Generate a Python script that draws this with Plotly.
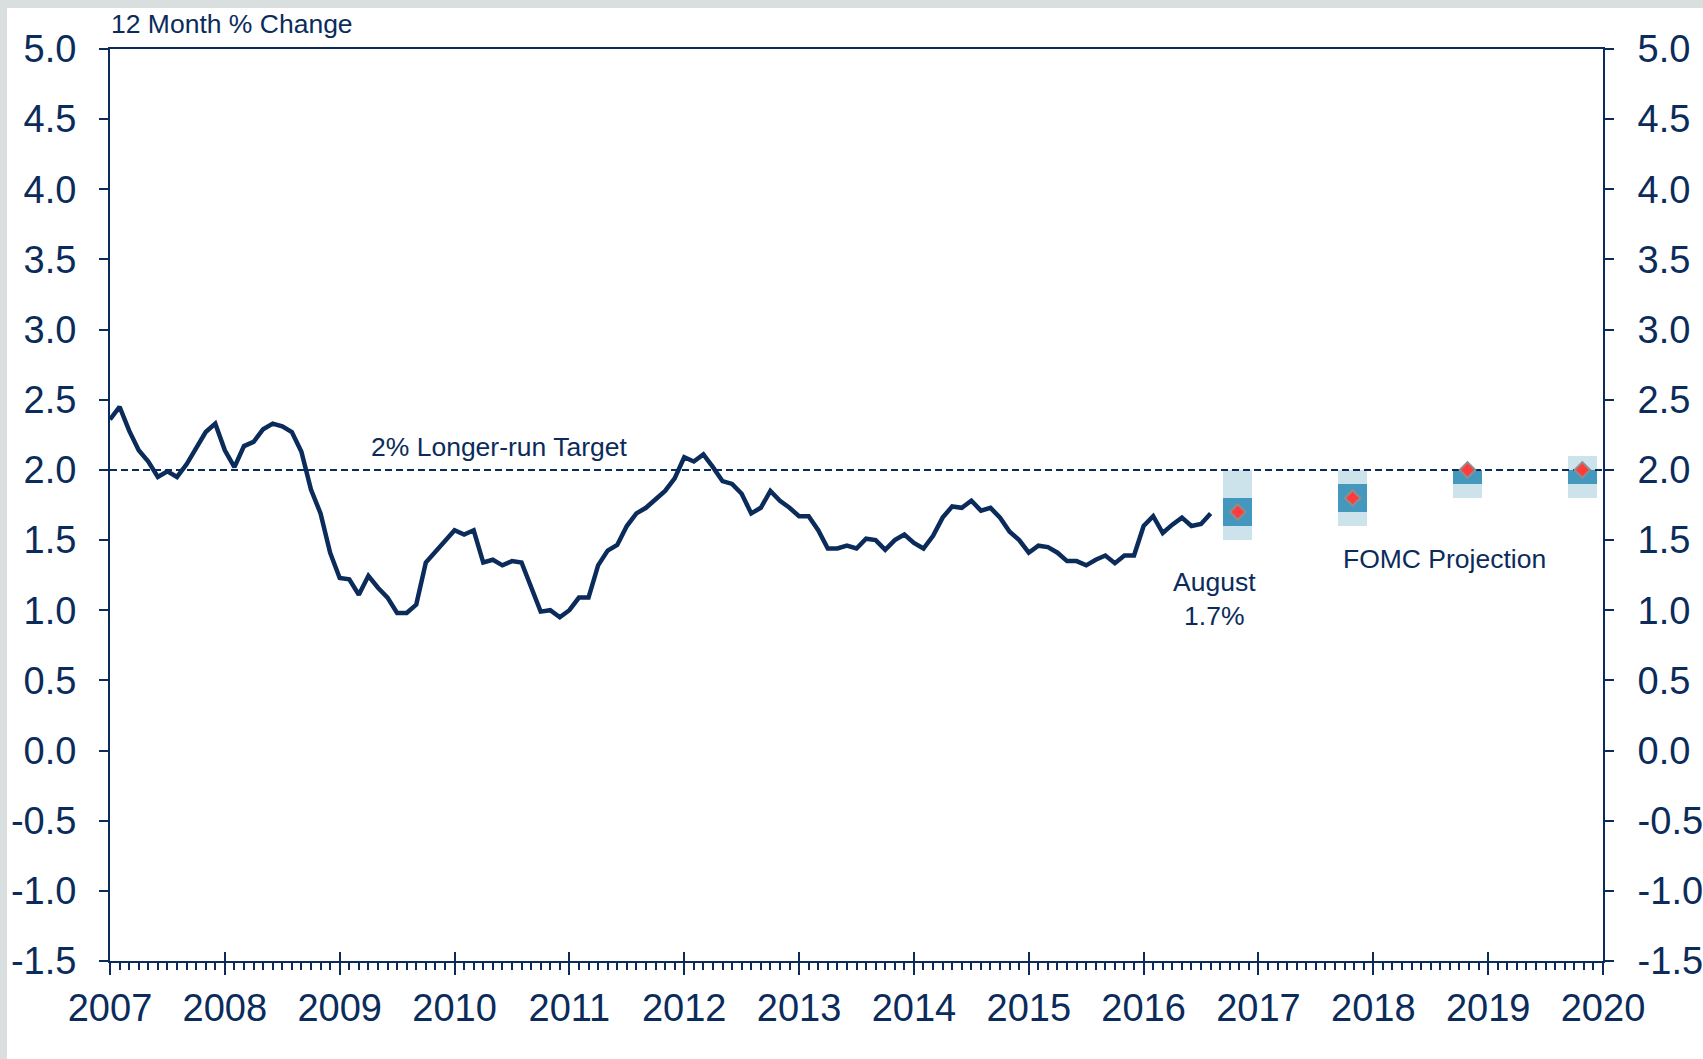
import plotly.graph_objects as go
import pandas as pd

# ---- data ----
start_month = "2007-01"
core_pce = [
    2.36, 2.45, 2.28, 2.14, 2.06, 1.95, 1.99, 1.95, 2.04, 2.15, 2.27, 2.33,   # 2007
    2.14, 2.02, 2.17, 2.20, 2.29, 2.33, 2.31, 2.27, 2.13, 1.86, 1.69, 1.41,   # 2008
    1.23, 1.22, 1.11, 1.245, 1.16, 1.09, 0.98, 0.98, 1.04, 1.34, 1.42, 1.49,  # 2009
    1.57, 1.54, 1.57, 1.34, 1.36, 1.32, 1.35, 1.34, 1.17, 0.99, 1.00, 0.95,   # 2010
    1.00, 1.09, 1.09, 1.32, 1.425, 1.465, 1.60, 1.69, 1.73, 1.79, 1.85, 1.94, # 2011
    2.09, 2.06, 2.11, 2.02, 1.92, 1.90, 1.83, 1.69, 1.73, 1.85, 1.78, 1.73,   # 2012
    1.67, 1.67, 1.57, 1.44, 1.44, 1.46, 1.44, 1.51, 1.50, 1.43, 1.50, 1.54,   # 2013
    1.48, 1.44, 1.53, 1.66, 1.74, 1.73, 1.78, 1.71, 1.73, 1.66, 1.56, 1.50,   # 2014
    1.41, 1.46, 1.45, 1.41, 1.35, 1.35, 1.32, 1.36, 1.39, 1.335, 1.39, 1.39,  # 2015
    1.60, 1.67, 1.55, 1.61, 1.66, 1.60, 1.615, 1.69,                          # 2016
]
proj_years = [2016, 2017, 2018, 2019]
range_low = [1.5, 1.6, 1.8, 1.8]
range_high = [2.0, 2.0, 2.0, 2.1]
ct_low = [1.6, 1.7, 1.9, 1.9]
ct_high = [1.8, 1.9, 2.0, 2.0]
median = [1.7, 1.8, 2.0, 2.0]
target = 2.0
y_ticks = [-1.5, -1.0, -0.5, 0.0, 0.5, 1.0, 1.5, 2.0, 2.5, 3.0, 3.5, 4.0, 4.5, 5.0]
x_ticks = list(range(2007, 2021))

# ---- style ----
NAVY = "#0B2C5B"
LIGHT = "#CCE3EC"
DARK = "#4497BD"
RED = "#FF3B3B"
FONT = "Liberation Sans, Arial, sans-serif"
W, H = 1703, 1059
L, R, T, B = 110, 100, 49, 98
BOX_OFFSET = 0.82
BOX_W = 0.25

dates = pd.date_range(start_month, periods=len(core_pce), freq="MS")
xs = [d.year + (d.month - 1) / 12 for d in dates]
px = [y + BOX_OFFSET for y in proj_years]

fig = go.Figure()
fig.add_trace(go.Bar(x=px, y=[h - l for h, l in zip(range_high, range_low)], base=range_low,
                     width=BOX_W, marker=dict(color=LIGHT, line=dict(width=0)),
                     showlegend=False, hoverinfo="skip"))
fig.add_trace(go.Bar(x=px, y=[h - l for h, l in zip(ct_high, ct_low)], base=ct_low,
                     width=BOX_W, marker=dict(color=DARK, line=dict(width=0)),
                     showlegend=False, hoverinfo="skip"))
fig.add_trace(go.Scatter(x=[x_ticks[0], x_ticks[-1]], y=[target, target], mode="lines",
                         line=dict(color=NAVY, width=2, dash="7px,4px"), showlegend=False))
fig.add_trace(go.Scatter(x=xs, y=core_pce, mode="lines",
                         line=dict(color=NAVY, width=4.5), showlegend=False))
fig.add_trace(go.Scatter(x=px, y=median, mode="markers",
                         marker=dict(symbol="diamond", size=12, color=RED,
                                     line=dict(color="#8E8E8E", width=2)),
                         showlegend=False))
# dummy traces to materialize overlay axes
fig.add_trace(go.Scatter(x=[None], y=[None], xaxis="x2", yaxis="y", showlegend=False))
fig.add_trace(go.Scatter(x=[None], y=[None], xaxis="x", yaxis="y2", showlegend=False))

tickfont = dict(family=FONT, size=38, color=NAVY)
fig.update_layout(
    width=W, height=H, autosize=False,
    margin=dict(l=L, r=R, t=T, b=B, autoexpand=False),
    paper_bgcolor="white", plot_bgcolor="white",
    barmode="overlay", bargap=0,
    font=dict(family=FONT, color=NAVY),
    xaxis=dict(range=[2007, 2020], tickmode="array", tickvals=x_ticks,
               ticktext=[str(v) for v in x_ticks], automargin=False,
               showgrid=False, zeroline=False, showline=True, linecolor=NAVY, linewidth=2,
               mirror=True, ticks="outside", ticklen=12, tickwidth=2, tickcolor=NAVY,
               tickfont=tickfont, ticklabelstandoff=0,
               minor=dict(dtick=1 / 12, tick0=2007, ticks="outside", ticklen=7,
                          tickwidth=2, tickcolor=NAVY, showgrid=False)),
    xaxis2=dict(range=[2007, 2020], overlaying="x", anchor="y", side="bottom",
                tickmode="array", tickvals=x_ticks, showticklabels=False, automargin=False,
                showgrid=False, zeroline=False, showline=False,
                ticks="inside", ticklen=9, tickwidth=2, tickcolor=NAVY),
    yaxis=dict(range=[-1.5, 5.0], tickmode="array", tickvals=y_ticks,
               ticktext=[f"{v:.1f}" for v in y_ticks], automargin=False,
               showgrid=False, zeroline=False, showline=True, linecolor=NAVY, linewidth=2,
               ticks="outside", ticklen=9, tickwidth=2, tickcolor=NAVY,
               tickfont=tickfont, ticklabelstandoff=15),
    yaxis2=dict(range=[-1.5, 5.0], overlaying="y", side="right", anchor="x",
                tickmode="array", tickvals=y_ticks, automargin=False,
                ticktext=[f"{v:.1f}" for v in y_ticks],
                showgrid=False, zeroline=False, showline=True, linecolor=NAVY, linewidth=2,
                ticks="outside", ticklen=9, tickwidth=2, tickcolor=NAVY,
                tickfont=tickfont, ticklabelstandoff=16),
)

# grey frame strips (top and left) of the slide background
pw = W - L - R
ph = H - T - B
def pxx(p):
    return (p - L) / pw
def pyy(p):
    return (H - B - p) / ph
GREY = "#D9DEDE"
fig.add_shape(type="rect", xref="paper", yref="paper", x0=pxx(0), x1=pxx(W), y0=pyy(0), y1=pyy(8),
              fillcolor=GREY, line=dict(width=0), layer="below")
fig.add_shape(type="rect", xref="paper", yref="paper", x0=pxx(0), x1=pxx(7), y0=pyy(0), y1=pyy(H),
              fillcolor=GREY, line=dict(width=0), layer="below")

ann_font = dict(family=FONT, size=26.5, color=NAVY)
fig.add_annotation(text="12 Month % Change", xref="paper", yref="paper", x=pxx(109), y=pyy(24),
                   xanchor="left", yanchor="middle", showarrow=False, font=ann_font)
fig.add_annotation(text="2% Longer-run Target", x=2010.39, y=2.16, xanchor="center",
                   yanchor="middle", showarrow=False, font=ann_font)
fig.add_annotation(text="August<br>1.7%", x=2016.62, y=1.08, xanchor="center",
                   yanchor="middle", showarrow=False, font=ann_font)
fig.add_annotation(text="FOMC Projection", x=2018.62, y=1.364, xanchor="center",
                   yanchor="middle", showarrow=False, font=ann_font)

fig.write_html("out.html", config={"displayModeBar": False},
               post_script="document.body.style.margin='0px';document.body.style.overflow='hidden';")
